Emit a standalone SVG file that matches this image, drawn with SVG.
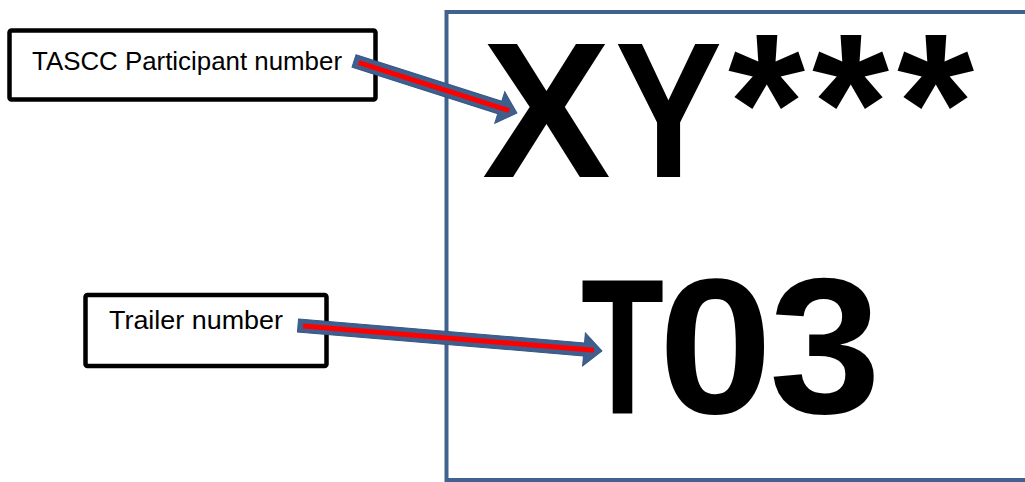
<svg xmlns="http://www.w3.org/2000/svg" width="1025" height="482" viewBox="0 0 1025 482">
  <style>
    .box { fill: #ffffff; stroke: #000000; stroke-width: 4.5; }
    .label { font-family: "Liberation Sans", Arial, sans-serif; font-size: 25px; fill: #000000; }
    .big { font-family: "Liberation Sans", Arial, sans-serif; font-weight: bold; font-size: 193px; fill: #000000; }
    .ast { font-size: 198px; }
    .shaft { fill: #3F5F8E; stroke: #375784; stroke-width: 1; }
    .core { stroke: #FF0000; stroke-width: 5; fill: none; }
  </style>
  <rect width="1025" height="482" fill="#ffffff"/>
  <g id="sign">
    <rect x="446.5" y="12" width="600" height="468" fill="#ffffff" stroke="#41628F" stroke-width="4"/>
    <text class="big" y="177"><tspan x="482">X</tspan><tspan x="615" textLength="107" lengthAdjust="spacingAndGlyphs">Y</tspan><tspan class="ast" x="728" y="172">*</tspan><tspan class="ast" x="812" y="172">*</tspan><tspan class="ast" x="897" y="172">*</tspan></text>
    <text class="big" y="413"><tspan x="581" textLength="83" lengthAdjust="spacingAndGlyphs">T</tspan><tspan x="658.5" textLength="114" lengthAdjust="spacingAndGlyphs">0</tspan><tspan x="769" textLength="112" lengthAdjust="spacingAndGlyphs">3</tspan></text>
  </g>
  <g id="participant-label">
    <rect class="box" x="9.5" y="30.5" width="366" height="69" rx="2"/>
    <text class="label" x="32" y="70" textLength="310" lengthAdjust="spacingAndGlyphs">TASCC Participant number</text>
  </g>
  <g id="trailer-label">
    <rect class="box" x="85.5" y="295" width="241" height="71" rx="2"/>
    <text class="label" x="109" y="329" textLength="174" lengthAdjust="spacingAndGlyphs">Trailer number</text>
  </g>
  <g id="connectors">
    <g transform="translate(354,61) rotate(17.69)">
      <path class="shaft" d="M0,-6.5 L153,-6.5 L153,-16.5 L171,0 L153,16.5 L153,6.5 L0,6.5 Z"/>
      <line class="core" x1="5" y1="0" x2="163" y2="0"/>
    </g>
    <g transform="translate(298,325.5) rotate(4.79)">
      <path class="shaft" d="M0,-6.5 L287,-6.5 L287,-16.5 L305,0 L287,16.5 L287,6.5 L0,6.5 Z"/>
      <line class="core" x1="5" y1="0" x2="297" y2="0"/>
    </g>
  </g>
</svg>
